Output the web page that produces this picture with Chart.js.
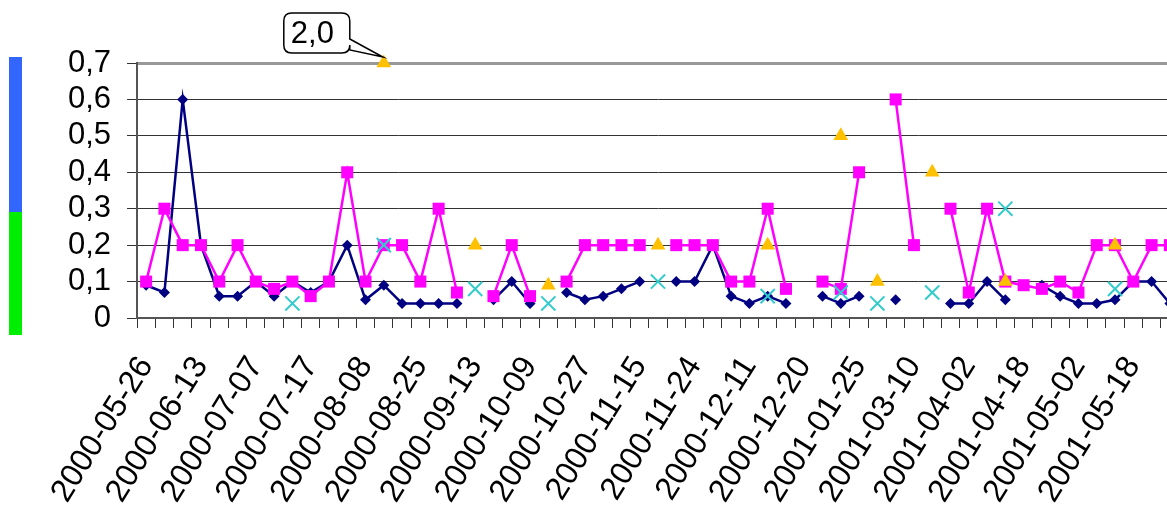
<!DOCTYPE html>
<html>
<head>
<meta charset="utf-8">
<script src="https://cdn.jsdelivr.net/npm/chart.js@4.4.1/dist/chart.umd.min.js"></script>
<style>
  html, body { margin: 0; padding: 0; overflow: hidden; background: #fff; }
  #wrap { position: relative; width: 1191px; height: 505px; }
  .bar { position: absolute; left: 9px; width: 13px; }
  #barBlue { top: 57px; height: 155px; background: #3366ff; }
  #barGreen { top: 212px; height: 123px; background: #00ee00; }
</style>
</head>
<body>
<div id="wrap">
  <canvas id="chart" width="1191" height="505"></canvas>
  <div class="bar" id="barBlue"></div>
  <div class="bar" id="barGreen"></div>
</div>
<script>
// every third category carries a date label
const tickLabels = [
  "2000-05-26", "2000-06-13", "2000-07-07", "2000-07-17", "2000-08-08",
  "2000-08-25", "2000-09-13", "2000-10-09", "2000-10-27", "2000-11-15",
  "2000-11-24", "2000-12-11", "2000-12-20", "2001-01-25", "2001-03-10",
  "2001-04-02", "2001-04-18", "2001-05-02", "2001-05-18"
];
const labelStep = 3;
const categoryCount = 57;

const navyValues = [
  0.09, 0.07, 0.6, 0.2, 0.06, 0.06, 0.1, 0.06, 0.1, 0.07,
  0.1, 0.2, 0.05, 0.09, 0.04, 0.04, 0.04, 0.04, null, 0.05,
  0.1, 0.04, null, 0.07, 0.05, 0.06, 0.08, 0.1, null, 0.1,
  0.1, 0.2, 0.06, 0.04, 0.06, 0.04, null, 0.06, 0.04, 0.06,
  null, 0.05, null, null, 0.04, 0.04, 0.1, 0.05, null, 0.09,
  0.06, 0.04, 0.04, 0.05, 0.1, 0.1, 0.04
];
const pinkValues = [
  0.1, 0.3, 0.2, 0.2, 0.1, 0.2, 0.1, 0.08, 0.1, 0.06,
  0.1, 0.4, 0.1, 0.2, 0.2, 0.1, 0.3, 0.07, null, 0.06,
  0.2, 0.06, null, 0.1, 0.2, 0.2, 0.2, 0.2, null, 0.2,
  0.2, 0.2, 0.1, 0.1, 0.3, 0.08, null, 0.1, 0.08, 0.4,
  null, 0.6, 0.2, null, 0.3, 0.07, 0.3, 0.1, 0.09, 0.08,
  0.1, 0.07, 0.2, 0.2, 0.1, 0.2, 0.2
];
const yellowValues = [
  null, null, null, null, null, null, null, null, null, null,
  null, null, null, 2.0, null, null, null, null, 0.2, null,
  null, null, 0.09, null, null, null, null, null, 0.2, null,
  null, null, null, null, 0.2, null, null, null, 0.5, null,
  0.1, null, null, 0.4, null, null, null, 0.1, null, null,
  null, null, null, 0.2, null, null, null
];
const cyanValues = [
  null, null, null, null, null, null, null, null, 0.04, null,
  null, null, null, 0.2, null, null, null, null, 0.08, null,
  null, null, 0.04, null, null, null, null, null, 0.1, null,
  null, null, null, null, 0.06, null, null, null, 0.07, null,
  0.04, null, null, 0.07, null, null, null, 0.3, null, null,
  null, null, null, 0.08, null, null, null
];

const yMin = 0;
const yMax = 0.7;
const yStep = 0.1;

const categories = [];
for (let i = 0; i < categoryCount; i++) {
  categories.push(i % labelStep === 0 ? (tickLabels[i / labelStep] || "") : "");
}

const fontFamily = "'Liberation Sans', Arial, sans-serif";
const yFont = { family: fontFamily, size: 31 };
const xFont = { family: fontFamily, size: 32 };

function formatComma(v, digits) {
  return v.toFixed(digits).replace(".", ",");
}

// values above the axis are drawn on the top edge, with a callout showing the real value
const calloutPlugin = {
  id: "callout",
  afterDatasetsDraw(chart) {
    const ctx = chart.ctx;
    const meta = chart.getDatasetMeta(1);
    yellowValues.forEach((v, i) => {
      if (v === null || v <= yMax) return;
      const pt = meta.data[i];
      const px = pt.x;
      const py = pt.y;
      const left = px - 100, right = px - 34, top = py - 50, bottom = py - 10, r = 8;
      const tailTop = py - 24, tailBottom = py - 13;
      ctx.save();
      ctx.beginPath();
      ctx.moveTo(left + r, top);
      ctx.lineTo(right - r, top);
      ctx.quadraticCurveTo(right, top, right, top + r);
      ctx.lineTo(right, tailTop);
      ctx.lineTo(px - 1, py - 6);
      ctx.lineTo(right, tailBottom);
      ctx.lineTo(right, bottom - r);
      ctx.quadraticCurveTo(right, bottom, right - r, bottom);
      ctx.lineTo(left + r, bottom);
      ctx.quadraticCurveTo(left, bottom, left, bottom - r);
      ctx.lineTo(left, top + r);
      ctx.quadraticCurveTo(left, top, left + r, top);
      ctx.closePath();
      ctx.fillStyle = "#fff";
      ctx.fill();
      ctx.lineWidth = 1.5;
      ctx.strokeStyle = "#000";
      ctx.stroke();
      ctx.fillStyle = "#000";
      ctx.font = "31px " + fontFamily;
      ctx.textAlign = "left";
      ctx.textBaseline = "middle";
      ctx.fillText(formatComma(v, 1), left + 7, (top + bottom) / 2 + 1);
      ctx.restore();
    });
  }
};

new Chart(document.getElementById("chart"), {
  type: "line",
  data: {
    labels: categories,
    datasets: [
      {
        label: "Serie 4",
        data: cyanValues,
        showLine: false,
        pointStyle: "crossRot",
        pointRadius: 10,
        pointBorderWidth: 2,
        borderColor: "#33cccc",
        backgroundColor: "#33cccc",
        clip: false
      },
      {
        label: "Serie 3",
        data: yellowValues.map(v => (v === null ? null : Math.min(v, yMax))),
        showLine: false,
        pointStyle: "triangle",
        pointRadius: 8.5,
        pointBorderWidth: 0,
        borderColor: "#ffc000",
        backgroundColor: "#ffc000",
        clip: false
      },
      {
        label: "Serie 2",
        data: pinkValues,
        borderColor: "#ff00ff",
        backgroundColor: "#ff00ff",
        borderWidth: 2.5,
        pointStyle: "rect",
        pointRadius: 8.5,
        pointBorderWidth: 0,
        tension: 0,
        spanGaps: false,
        clip: false
      },
      {
        label: "Serie 1",
        data: navyValues,
        borderColor: "#000080",
        backgroundColor: "#000080",
        borderWidth: 2.5,
        pointStyle: "rectRot",
        pointRadius: 5.5,
        pointBorderWidth: 0,
        tension: 0,
        spanGaps: false,
        clip: false
      }
    ]
  },
  options: {
    responsive: false,
    animation: false,
    layout: { padding: { top: 63, left: 0, right: 0, bottom: 0 } },
    plugins: {
      legend: { display: false },
      tooltip: { enabled: false }
    },
    scales: {
      x: {
        offset: true,
        grid: {
          offset: true,
          drawOnChartArea: false,
          tickLength: 10,
          tickColor: "#333",
          tickWidth: 1
        },
        border: { color: "#555", width: 2 },
        ticks: {
          autoSkip: false,
          minRotation: 58,
          maxRotation: 58,
          padding: 22,
          color: "#000",
          font: xFont
        },
        afterFit: (scale) => {
          scale.height = 187;
          scale.paddingLeft = 0;
          scale.paddingRight = 0;
        }
      },
      y: {
        min: yMin,
        max: yMax,
        ticks: {
          stepSize: yStep,
          autoSkip: false,
          padding: 16,
          color: "#000",
          font: yFont,
          callback: (v) => (v === 0 ? "0" : formatComma(v, 1))
        },
        grid: {
          color: (c) => (Math.abs(c.tick.value - yMax) < 1e-6 ? "#999" : "#333"),
          lineWidth: (c) => (Math.abs(c.tick.value - yMax) < 1e-6 ? 3 : 1),
          tickLength: 10,
          tickColor: "#333",
          tickWidth: 1
        },
        border: { color: "#555", width: 2 },
        afterFit: (scale) => { scale.width = 137; }
      }
    }
  },
  plugins: [calloutPlugin]
});
</script>
</body>
</html>
